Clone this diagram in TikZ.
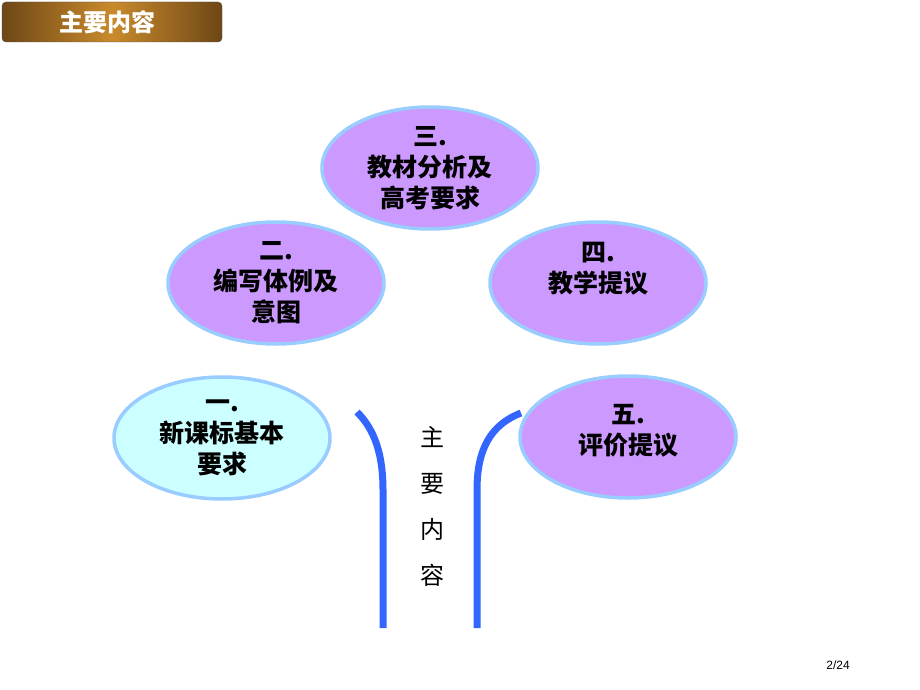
\documentclass[tikz,border=0pt]{standalone}
\usepackage{fontspec}
\setmainfont{Liberation Sans}
\newfontfamily\cjk{Noto Sans CJK SC}
\usetikzlibrary{shapes.geometric}

\definecolor{rimblue}{HTML}{99CCFF}
\definecolor{lilac}{HTML}{CC99FF}
\definecolor{palecyan}{HTML}{CCFFFF}
\definecolor{stemblue}{HTML}{3366FF}
\definecolor{bronzedark}{HTML}{6E4716}
\definecolor{bronzelight}{HTML}{C98A2C}

\tikzset{
  leaftext/.style={align=center, font=\cjk\bfseries\fontsize{25}{31}\selectfont},
  leaf/.style={ellipse, draw=rimblue, line width=3.5pt, fill=lilac,
    minimum width=216pt, minimum height=122pt, inner sep=0pt, leaftext},
  stem/.style={draw=stemblue, line width=7pt},
}

\begin{document}
\begin{tikzpicture}[x=1pt,y=-1pt]
		\useasboundingbox (0,0) rectangle (920,690);
		
		% Title bar
		\shade[draw=black!70, rounded corners=4pt, left color=bronzedark, right color=bronzedark, middle color=bronzelight] (2,2) rectangle (222,42);
		\node[text=white, font=\cjk\bfseries\fontsize{24}{24}\selectfont] (title) at (107,22) {主要内容};
		
		% Leaves
		\node[leaf] (three) at (430,168) {三.\\教材分析及\\高考要求};
		\node[leaf] (two) at (276,283) {二.\\编写体例及\\意图};
		\node[leaf] (four) at (598,283) {四.\\教学提议\\\mbox{}};
		\node[leaf, fill=palecyan] (one) at (222,438) {一.\\新课标基本\\要求};
		\node[leaf] (five) at (628,437) {};
		\node[leaftext] (fivetext) at ([yshift=6pt]five.center) {五.\\评价提议};
		
		% Stems
		\coordinate (lefttop) at (357,412);
		\coordinate (leftfoot) at (383,628);
		\coordinate (righttop) at (521,413);
		\coordinate (rightfoot) at (477,628);
		\draw[stem] (lefttop) .. controls (375,430) and (383,455) .. (383,490) -- (leftfoot);
		\draw[stem] (righttop) .. controls (490,425) and (477,450) .. (477,490) -- (rightfoot);
		
		% Trunk text
		\node[font=\cjk\fontsize{24}{46}\selectfont, align=center] (trunk) at (432,506) {主\\要\\内\\容};
		
		% Page number
		\node[font=\fontsize{12}{12}\selectfont] (page) at (838,665) {2/24};
		
\end{tikzpicture}
\end{document}
